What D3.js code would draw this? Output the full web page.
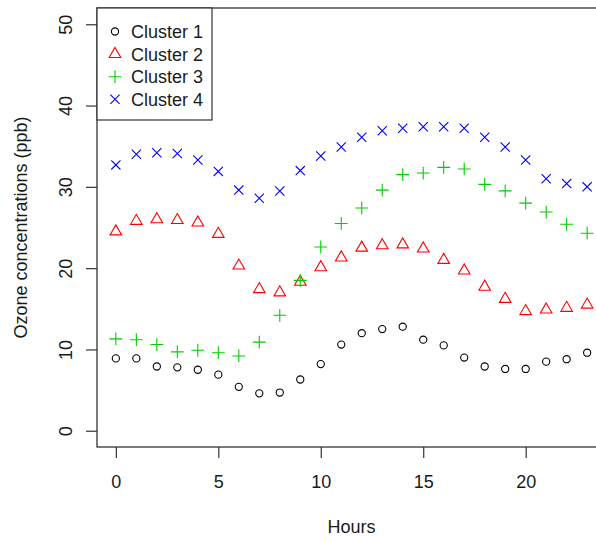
<!DOCTYPE html>
<html>
<head>
<meta charset="utf-8">
<script src="https://cdn.jsdelivr.net/npm/d3@7"></script>
<style>
  html, body { margin: 0; padding: 0; background: #fff; }
  svg { display: block; }
  text { font-family: "Liberation Sans", Arial, sans-serif; fill: #1a1a1a; }
</style>
</head>
<body>
<svg id="chart" width="596" height="541"></svg>
<script>
// Hourly ozone profiles for four clusters (ppb)
const hours = d3.range(0, 24);
const cluster1 = [8.9, 8.9, 7.9, 7.8, 7.5, 6.9, 5.4, 4.6, 4.7, 6.3, 8.2, 10.6,
                  12.0, 12.5, 12.8, 11.2, 10.5, 9.0, 7.9, 7.6, 7.6, 8.5, 8.8, 9.6];
const cluster2 = [24.5, 25.8, 26.0, 25.9, 25.6, 24.2, 20.3, 17.4, 17.0, 18.3, 20.1, 21.3,
                  22.5, 22.8, 22.9, 22.4, 21.0, 19.7, 17.7, 16.2, 14.7, 14.9, 15.1, 15.5];
const cluster3 = [11.3, 11.2, 10.6, 9.7, 9.9, 9.6, 9.2, 10.9, 14.2, 18.5, 22.6, 25.5,
                  27.4, 29.6, 31.5, 31.7, 32.4, 32.2, 30.3, 29.5, 28.0, 26.9, 25.4, 24.3];
const cluster4 = [32.7, 34.0, 34.2, 34.1, 33.3, 31.9, 29.6, 28.6, 29.5, 32.0, 33.8, 34.9,
                  36.1, 36.9, 37.2, 37.4, 37.4, 37.2, 36.1, 34.9, 33.3, 31.0, 30.4, 30.0];
const seriesNames = ["Cluster 1", "Cluster 2", "Cluster 3", "Cluster 4"];
const seriesColors = ["#000000", "#ff0000", "#00cd00", "#0000ff"];
const seriesShapes = ["circle", "triangle", "plus", "cross"];
const xTicks = [0, 5, 10, 15, 20];
const yTicks = [0, 10, 20, 30, 40, 50];
const xTitle = "Hours";
const yTitle = "Ozone concentrations (ppb)";

const allSeries = [cluster1, cluster2, cluster3, cluster4];

const svg = d3.select("#chart");
const plotLeft = 97, plotRight = 606, plotTop = 8, plotBottom = 447;
const fontSize = 18;
const axisColor = "#333";

// R-style 4% padding on both axes
const x = d3.scaleLinear().domain([-0.92, 23.92]).range([plotLeft, plotRight]);
const y = d3.scaleLinear().domain([-2, 52]).range([plotBottom, plotTop]);

// Marker paths, centred on the data point
function markerPath(shape) {
  const p = d3.path();
  if (shape === "circle") {
    p.arc(0, 0, 3.6, 0, 2 * Math.PI);
  } else if (shape === "triangle") {
    const r = 6.7, xc = r * Math.sqrt(3) / 2, yc = r / 2;
    p.moveTo(0, -r); p.lineTo(xc, yc); p.lineTo(-xc, yc); p.closePath();
  } else if (shape === "plus") {
    const h = 6.4;
    p.moveTo(-h, 0); p.lineTo(h, 0); p.moveTo(0, -h); p.lineTo(0, h);
  } else {
    const h = 4.6;
    p.moveTo(-h, -h); p.lineTo(h, h); p.moveTo(-h, h); p.lineTo(h, -h);
  }
  return p.toString();
}

// Points
allSeries.forEach((vals, i) => {
  svg.append("g")
    .selectAll("path")
    .data(vals)
    .join("path")
    .attr("transform", (d, j) => `translate(${x(hours[j])},${y(d)})`)
    .attr("d", markerPath(seriesShapes[i]))
    .attr("fill", "none")
    .attr("stroke", seriesColors[i])
    .attr("stroke-width", 1.1);
});

// X axis
const xAxis = svg.append("g")
  .attr("transform", `translate(0,${plotBottom})`)
  .call(d3.axisBottom(x).tickValues(xTicks).tickSize(11).tickFormat(d3.format("d")));
xAxis.select(".domain").remove();
xAxis.selectAll("line").attr("stroke", axisColor).attr("stroke-width", 1.2);
xAxis.selectAll("text")
  .attr("y", 41).attr("dy", null)
  .style("font-size", fontSize + "px")
  .style("font-family", "'Liberation Sans', Arial, sans-serif")
  .attr("fill", "#1a1a1a");

// Y axis
const yAxis = svg.append("g")
  .attr("transform", `translate(${plotLeft},0)`)
  .call(d3.axisLeft(y).tickValues(yTicks).tickSize(11).tickFormat(d3.format("d")));
yAxis.select(".domain").remove();
yAxis.selectAll("line").attr("stroke", axisColor).attr("stroke-width", 1.2);
yAxis.selectAll("text")
  .attr("x", null).attr("dy", null)
  .attr("text-anchor", "middle")
  .attr("transform", "translate(-25,0) rotate(-90)")
  .style("font-size", fontSize + "px")
  .style("font-family", "'Liberation Sans', Arial, sans-serif")
  .attr("fill", "#1a1a1a");

// Plot frame
svg.append("rect")
  .attr("x", plotLeft).attr("y", plotTop)
  .attr("width", plotRight - plotLeft).attr("height", plotBottom - plotTop)
  .attr("fill", "none").attr("stroke", axisColor).attr("stroke-width", 1.3);

// Axis titles
svg.append("text")
  .attr("x", (plotLeft + plotRight) / 2).attr("y", 533)
  .attr("text-anchor", "middle")
  .style("font-size", fontSize + "px")
  .text(xTitle);

svg.append("text")
  .attr("transform", `translate(27,${(plotTop + plotBottom) / 2}) rotate(-90)`)
  .attr("text-anchor", "middle")
  .style("font-size", fontSize + "px")
  .text(yTitle);

// Legend
const legend = svg.append("g");
legend.append("rect")
  .attr("x", plotLeft).attr("y", plotTop)
  .attr("width", 115).attr("height", 112)
  .attr("fill", "#fff").attr("stroke", axisColor).attr("stroke-width", 1.2);
seriesNames.forEach((name, i) => {
  const cy = 31.5 + i * 22.6;
  legend.append("path")
    .attr("transform", `translate(115,${cy})`)
    .attr("d", markerPath(seriesShapes[i]))
    .attr("fill", "none")
    .attr("stroke", seriesColors[i])
    .attr("stroke-width", 1.1);
  legend.append("text")
    .attr("x", 131).attr("y", cy + 6.5)
    .style("font-size", fontSize + "px")
    .text(name);
});
</script>
</body>
</html>
